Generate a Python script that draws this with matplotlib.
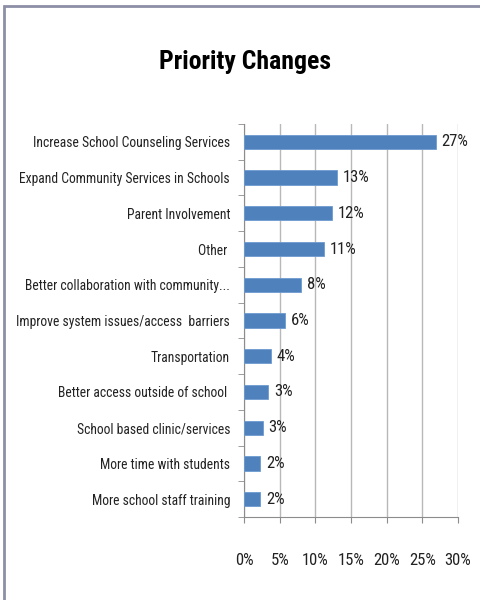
import matplotlib
matplotlib.use('Agg')
import matplotlib.pyplot as plt
from matplotlib import font_manager
from matplotlib.patches import Rectangle
from matplotlib.ticker import FixedLocator

# chart data
categories = ['Increase School Counseling Services',
              'Expand Community Services in Schools',
              'Parent Involvement',
              'Other ',
              'Better collaboration with community...',
              'Improve system issues/access  barriers',
              'Transportation',
              'Better access outside of school ',
              'School based clinic/services',
              'More time with students',
              'More school staff training']
values = [26.9, 13.0, 12.3, 11.2, 8.0, 5.75, 3.8, 3.4, 2.6, 2.3, 2.3]
x_ticks = [0, 5, 10, 15, 20, 25, 30]

# pick a narrow font if one is there
names = {f.name for f in font_manager.fontManager.ttflist}
font = 'DejaVu Sans'
for cand in ['Liberation Sans Narrow', 'DejaVu Sans Condensed', 'Roboto Condensed', 'Liberation Sans']:
    if cand in names:
        font = cand
        break
plt.rcParams['font.family'] = [font, 'DejaVu Sans']

fig = plt.figure(figsize=(4.8, 6), dpi=100)
fig.patches.append(Rectangle((4/480, -0.1), 1.2, 1 - 6/600 + 0.1, transform=fig.transFigure,
                             fill=False, edgecolor='#8c8fa6', linewidth=2))

ax = fig.add_axes([244/480, 83/600, 214/480, 393/600])
pos = list(range(len(categories)))
ax.barh(pos, values, height=0.4, color='#4f81bd', edgecolor='#6f9bd0', linewidth=0.6, zorder=3)
for p, v in zip(pos, values):
    ax.text(v + 0.8, p, '{:.0f}%'.format(v), va='center', ha='left', fontsize=12, color='#222222', zorder=4)

ax.set_ylim(len(categories) - 0.5, -0.5)
ax.set_xlim(0, 30)
ax.set_yticks(pos)
ax.set_yticklabels(categories, fontsize=9.8, color='#222222')
ax.tick_params(axis='y', length=0, pad=10)
ax.yaxis.set_minor_locator(FixedLocator([i - 0.5 for i in range(len(categories) + 1)]))
ax.tick_params(axis='y', which='minor', length=4, color='#8c8c8c')
ax.set_xticks(x_ticks)
ax.set_xticklabels(['{}%'.format(t) for t in x_ticks], fontsize=12, color='#222222')
ax.tick_params(axis='x', length=4, color='#8c8c8c', pad=22)
ax.grid(axis='x', color='#b8b8b8', linewidth=1, zorder=0)
for s in ['top', 'right']:
    ax.spines[s].set_visible(False)
for s in ['left', 'bottom']:
    ax.spines[s].set_color('#8c8c8c')

fig.text(245/480, 1 - 62/600, 'Priority Changes', ha='center', va='center',
         fontsize=18.5, fontweight='bold', color='black')

fig.savefig('out.png', dpi=100)
